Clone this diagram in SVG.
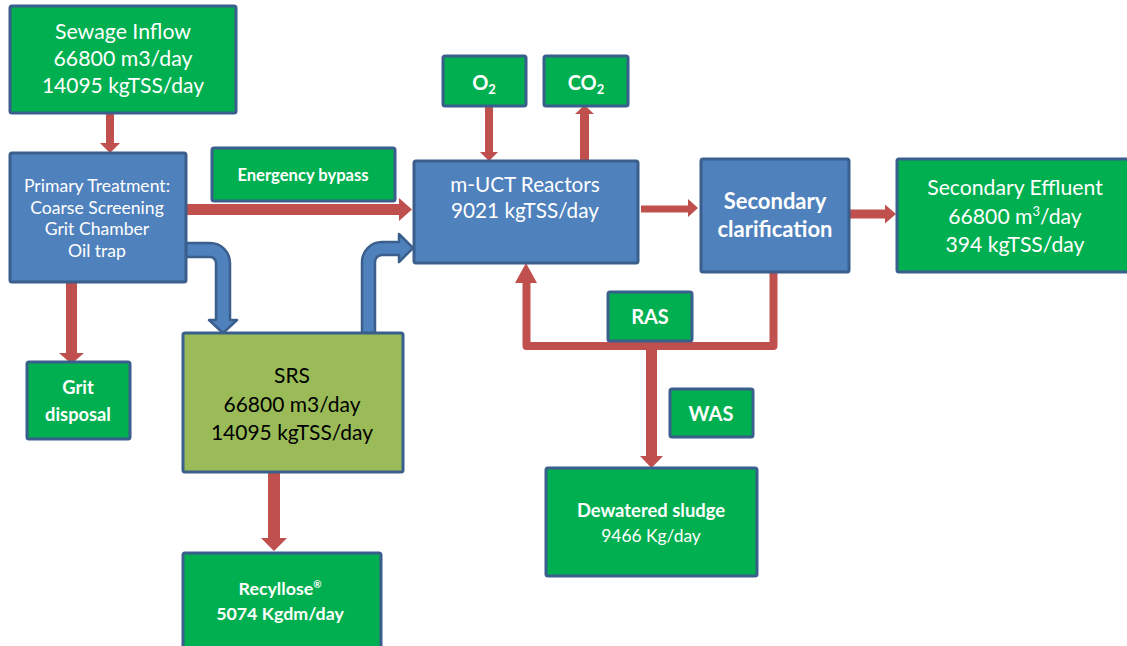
<svg xmlns="http://www.w3.org/2000/svg" width="1127" height="646" viewBox="0 0 1127 646">
  <defs>
    <style>
      .box { stroke: #3b5f8c; stroke-width: 3; }
      .green { fill: #00b050; }
      .blue { fill: #4f81bd; }
      .olive { fill: #9bbb59; }
      .red { fill: #c0504d; }
      .bend { fill: #4f81bd; stroke: #3b5f8c; stroke-width: 2.5; stroke-linejoin: round; }
      .pipe { fill: none; stroke: #c0504d; stroke-width: 8; stroke-linejoin: round; stroke-linecap: round; }
      text { font-family: Lato, "Open Sans", "Liberation Sans", sans-serif; text-anchor: middle; }
      .w { fill: #ffffff; }
      .k { fill: #000000; }
      .b { font-weight: bold; }
    </style>
  </defs>

  <!-- connectors -->
  <g id="connectors">
    <!-- inflow to primary treatment -->
    <path class="red" d="M106,114 H114 V143 H120 L110,153 L100,143 H106 Z"/>
    <!-- primary treatment to grit disposal -->
    <path class="red" d="M66,283 H77 V353 H84 L71.5,364 L59,353 H66 Z"/>
    <!-- emergency bypass to reactors -->
    <path class="red" d="M186,204 H399 V198 L412,209.5 L399,221 V215 H186 Z"/>
    <!-- primary treatment to SRS (bent arrow) -->
    <path class="bend" d="M186,243 H210 A20,20 0 0 1 230,263 V320 H237 L223,333 L209,320 H216 V263 A6,6 0 0 0 210,257 H186 Z"/>
    <!-- SRS to reactors (bent arrow) -->
    <path class="bend" d="M362,333 V262 A20,20 0 0 1 382,242 H399 V234 L413,248 L399,262 V255 H382 A7,7 0 0 0 375,262 V333 Z"/>
    <!-- O2 into reactors -->
    <path class="red" d="M485,106 H493 V152 H498 L489,161 L480,152 H485 Z"/>
    <!-- CO2 out of reactors -->
    <path class="red" d="M580,161 H589 V114 H594 L584.5,105 L575,114 H580 Z"/>
    <!-- reactors to clarification -->
    <path class="red" d="M641,205.5 H688 V199 L698,208 L688,217 V212.5 H641 Z"/>
    <!-- clarification to effluent -->
    <path class="red" d="M849,209.5 H885 V204.5 L896,214 L885,223.5 V218.5 H849 Z"/>
    <!-- return / waste activated sludge loop -->
    <path class="pipe" d="M773.5,272 V346 H526.5 V282"/>
    <path class="red" d="M515,283 L526,263 L537,283 Z"/>
    <path class="red" d="M646,346 H657 V456 H663 L651.5,468 L640,456 H646 Z"/>
    <!-- SRS to Recyllose -->
    <path class="red" d="M268,472 H280 V538 H287 L274,551 L261,538 H268 Z"/>
  </g>

  <g id="sewage-inflow">
    <rect class="box green" x="10" y="6" width="226" height="107" rx="2"/>
    <text class="w" x="123" y="39" font-size="21.3">Sewage Inflow</text>
    <text class="w" x="123" y="66" font-size="21.3">66800 m3/day</text>
    <text class="w" x="123" y="93" font-size="21">14095 kgTSS/day</text>
  </g>

  <g id="primary-treatment">
    <rect class="box blue" x="10" y="153" width="176" height="129" rx="2"/>
    <text class="w" x="97" y="191.5" font-size="17.6">Primary Treatment:</text>
    <text class="w" x="97" y="213.5" font-size="17.6">Coarse Screening</text>
    <text class="w" x="97" y="235" font-size="17.6">Grit Chamber</text>
    <text class="w" x="97" y="256.5" font-size="17.6">Oil trap</text>
  </g>

  <g id="emergency-bypass">
    <rect class="box green" x="212" y="148" width="183" height="53" rx="2"/>
    <text class="w b" x="303" y="180.5" font-size="16.6">Energency bypass</text>
  </g>

  <g id="o2">
    <rect class="box green" x="443" y="56" width="83" height="50" rx="2"/>
    <text class="w b" x="484" y="90" font-size="20">O<tspan font-size="13" dy="4">2</tspan></text>
  </g>

  <g id="co2">
    <rect class="box green" x="544" y="56" width="84" height="50" rx="2"/>
    <text class="w b" x="586" y="90" font-size="20">CO<tspan font-size="13" dy="4">2</tspan></text>
  </g>

  <g id="reactors">
    <rect class="box blue" x="414" y="161" width="224" height="102" rx="2"/>
    <text class="w" x="525" y="192" font-size="20.7">m-UCT Reactors</text>
    <text class="w" x="525" y="218" font-size="20.7">9021 kgTSS/day</text>
  </g>

  <g id="secondary-clarification">
    <rect class="box blue" x="701" y="159" width="148" height="113" rx="2"/>
    <text class="w b" x="775" y="209" font-size="22">Secondary</text>
    <text class="w b" x="775" y="237" font-size="22">clarification</text>
  </g>

  <g id="secondary-effluent">
    <rect class="box green" x="897" y="159" width="236" height="113" rx="2"/>
    <text class="w" x="1015" y="195" font-size="21.2">Secondary Effluent</text>
    <text class="w" x="1015" y="223.5" font-size="21.2">66800 m<tspan font-size="13" dy="-8">3</tspan><tspan dy="8">/day</tspan></text>
    <text class="w" x="1015" y="252" font-size="21.2">394 kgTSS/day</text>
  </g>

  <g id="grit-disposal">
    <rect class="box green" x="27" y="362" width="103" height="77" rx="2"/>
    <text class="w b" x="78" y="393.5" font-size="18.3">Grit</text>
    <text class="w b" x="78" y="420.5" font-size="18.3">disposal</text>
  </g>

  <g id="srs">
    <rect class="box olive" x="183" y="333" width="220" height="139" rx="2"/>
    <text class="k" x="292" y="383" font-size="21">SRS</text>
    <text class="k" x="292" y="412" font-size="21">66800 m3/day</text>
    <text class="k" x="292" y="440" font-size="21">14095 kgTSS/day</text>
  </g>

  <g id="recyllose">
    <rect class="box green" x="183" y="553" width="198" height="98" rx="2"/>
    <text class="w b" x="280" y="595" font-size="17.8">Recyllose<tspan font-size="10" dy="-7">®</tspan></text>
    <text class="w b" x="280" y="620" font-size="17.8">5074 Kgdm/day</text>
  </g>

  <g id="ras">
    <rect class="box green" x="608" y="292" width="84" height="49" rx="2"/>
    <text class="w b" x="650" y="323.5" font-size="20">RAS</text>
  </g>

  <g id="was">
    <rect class="box green" x="670" y="389" width="83" height="48" rx="2"/>
    <text class="w b" x="711" y="420.5" font-size="20">WAS</text>
  </g>

  <g id="dewatered-sludge">
    <rect class="box green" x="546" y="468" width="211" height="108" rx="2"/>
    <text class="w b" x="651" y="517" font-size="18.4">Dewatered sludge</text>
    <text class="w" x="651" y="542" font-size="17.4">9466 Kg/day</text>
  </g>
</svg>
